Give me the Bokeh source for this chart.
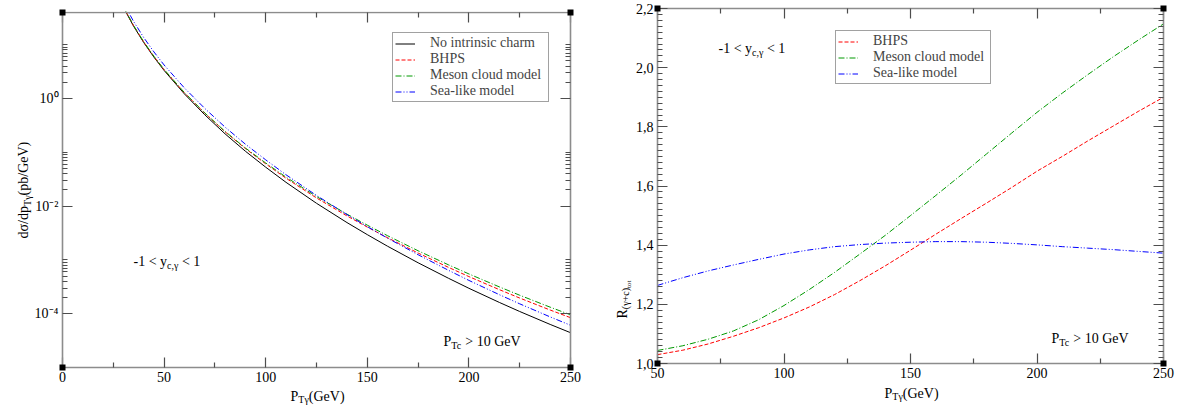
import math
from bokeh.plotting import figure
from bokeh.layouts import row
from bokeh.models import (Range1d, LinearAxis, LogAxis, FixedTicker, CustomJSTickFormatter,
                          Legend, LegendItem, Label, BoxAnnotation)
from bokeh.embed import file_html
from bokeh.resources import INLINE

FONT = "Liberation Serif"

# ---------------- data ----------------
pt_left = [30, 35, 40, 45, 50, 60, 70, 80, 90, 100, 110, 125, 140, 150, 160, 175, 190, 200, 215, 225, 240, 250]
xs_no_ic = [49.3, 22.1, 10.97, 5.88, 3.33, 1.22, 0.50, 0.221, 0.105, 0.053, 0.0277, 0.0113, 4.95e-3, 2.95e-3,
            1.795e-3, 8.85e-4, 4.55e-4, 2.97e-4, 1.62e-4, 1.10e-4, 6.32e-5, 4.44e-5]
xs_bhps = [50.3, 22.5, 11.21, 6.03, 3.43, 1.275, 0.533, 0.2413, 0.1177, 0.0612, 0.0330, 0.0142, 6.58e-3, 4.08e-3,
           2.58e-3, 1.342e-3, 7.26e-4, 4.90e-4, 2.80e-4, 1.955e-4, 1.170e-4, 8.44e-5]
xs_mcm = [50.8, 22.8, 11.33, 6.10, 3.48, 1.293, 0.541, 0.2453, 0.1205, 0.0634, 0.0346, 0.0151, 7.09e-3, 4.43e-3,
          2.815e-3, 1.480e-3, 8.09e-4, 5.49e-4, 3.15e-4, 2.207e-4, 1.323e-4, 9.54e-5]
xs_sea = [59.7, 27.1, 13.58, 7.36, 4.21, 1.574, 0.657, 0.2946, 0.142, 0.0726, 0.0383, 0.0158, 6.96e-3, 4.16e-3,
          2.535e-3, 1.249e-3, 6.40e-4, 4.16e-4, 2.257e-4, 1.527e-4, 8.72e-5, 6.10e-5]

pt_right = [50, 60, 70, 80, 90, 100, 110, 120, 130, 140, 150, 160, 170, 180, 190, 200, 210, 220, 230, 240, 250]
r_bhps = [1.030, 1.045, 1.066, 1.092, 1.121, 1.154, 1.191, 1.233, 1.280, 1.330, 1.383, 1.437, 1.490, 1.542,
          1.595, 1.650, 1.700, 1.752, 1.802, 1.852, 1.900]
r_mcm = [1.044, 1.060, 1.082, 1.110, 1.148, 1.196, 1.250, 1.308, 1.370, 1.433, 1.500, 1.568, 1.637, 1.708,
         1.779, 1.849, 1.914, 1.976, 2.036, 2.093, 2.148]
r_sea = [1.264, 1.290, 1.313, 1.333, 1.352, 1.370, 1.384, 1.395, 1.402, 1.407, 1.410, 1.412, 1.412, 1.410,
         1.406, 1.401, 1.395, 1.390, 1.385, 1.379, 1.373]

series_names = ["No intrinsic charm", "BHPS", "Meson cloud model", "Sea-like model"]

left_x_range = (0, 250)
left_y_range = (1e-5, 10 ** 1.6)
left_x_ticks = [0, 50, 100, 150, 200, 250]
left_x_minor = [25, 75, 125, 175, 225]
left_x_labels = ["0", "50", "100", "150", "200", "250"]
left_y_ticks = [1e-4, 1e-2, 1.0]
left_y_labels = ["10\u207b\u2074", "10\u207b\u00b2", "10\u2070"]

right_x_range = (50, 250)
right_y_range = (1.0, 2.2)
right_x_ticks = [50, 100, 150, 200, 250]
right_x_minor = [75, 125, 175, 225]
right_x_labels = ["50", "100", "150", "200", "250"]
right_y_ticks = [1.0, 1.2, 1.4, 1.6, 1.8, 2.0, 2.2]
right_y_labels = ["1,0", "1,2", "1,4", "1,6", "1,8", "2,0", "2,2"]

# ---------------- styles ----------------
COL = {"No intrinsic charm": "#000000", "BHPS": "#ff0000",
       "Meson cloud model": "#009900", "Sea-like model": "#0000ff"}
DASH = {"No intrinsic charm": "solid", "BHPS": "4 2",
        "Meson cloud model": "6 2 1 2", "Sea-like model": "6 2 1 2 1 2"}

W = {' ': 250, '-': 333, '0': 500, '1': 500, '2': 500, '3': 500, '4': 500, '5': 500, '6': 500, '7': 500,
     '8': 500, '9': 500, '<': 564, '>': 564, 'y': 500, 'c': 444, ',': 250, '\u03b3': 440, 'P': 556,
     'T': 611, '(': 333, ')': 333, 'G': 722, 'e': 444, 'V': 722, 'R': 667, '+': 564, 't': 278, 'o': 500,
     'd': 500, '\u03c3': 550, '/': 278, 'p': 500, 'b': 500}

CANVAS_TOP = 0        # Bokeh's page template has no body margin
HEIGHT = 407


def twidth(s, size):
    return sum(W.get(ch, 500) for ch in s) * size / 1000.0


def fmt(vals, labs):
    return CustomJSTickFormatter(args=dict(vals=vals, labs=labs), code="""
        for (let i = 0; i < vals.length; i++) {
            if (Math.abs(tick - vals[i]) <= 1e-9 * Math.max(1e-6, Math.abs(vals[i]))) return labs[i];
        }
        return "";
    """)


def blank():
    return CustomJSTickFormatter(code="return '';")


def style_axis(ax, ticker, formatter, labels=True):
    ax.ticker = ticker
    ax.formatter = formatter
    ax.axis_line_color = "#8c8c8c"
    ax.axis_line_width = 1.6
    ax.major_tick_line_color = "#4d4d4d"
    ax.minor_tick_line_color = "#4d4d4d"
    ax.major_tick_line_width = 1.2
    ax.minor_tick_line_width = 1.2
    ax.major_tick_in = 10
    ax.major_tick_out = 0
    ax.minor_tick_in = 5
    ax.minor_tick_out = 0
    ax.major_label_text_font = FONT
    ax.major_label_text_font_size = "14px"
    ax.major_label_text_color = "#000000"
    ax.major_label_standoff = 4
    if not labels:
        ax.major_label_text_font_size = "0px"
        ax.major_label_standoff = 0


class Panel:
    """One chart: the canvas covers the whole figure, the drawn box is set by the axes."""

    def __init__(self, page_left, width, box, xr, yr, ylog):
        self.cl, self.ct = page_left, CANVAS_TOP
        self.w, self.h = width, HEIGHT
        self.cb = self.ct + self.h
        L, R, T, B = box
        self.box = box
        x0, x1 = xr
        kx = (x1 - x0) / (R - L)
        xs, xe = x0 - (L - self.cl) * kx, x1 + (self.cl + width - R) * kx
        if ylog:
            l0, l1 = math.log10(yr[0]), math.log10(yr[1])
            ky = (l1 - l0) / (B - T)
            ys, ye = 10 ** (l0 - (self.cb - B) * ky), 10 ** (l1 + (T - self.ct) * ky)
        else:
            ky = (yr[1] - yr[0]) / (B - T)
            ys, ye = yr[0] - (self.cb - B) * ky, yr[1] + (T - self.ct) * ky
        self.p = figure(width=width, height=HEIGHT, x_range=Range1d(xs, xe), y_range=Range1d(ys, ye),
                        y_axis_type="log" if ylog else "linear", x_axis_location=None,
                        y_axis_location=None, output_backend="svg", toolbar_location=None,
                        min_border=0, min_border_left=0, min_border_right=0,
                        min_border_top=0, min_border_bottom=0)
        p = self.p
        p.xgrid.visible = False
        p.ygrid.visible = False
        p.outline_line_color = None
        p.background_fill_color = "white"
        p.border_fill_color = "white"
        self.xr, self.yr, self.ylog = xr, yr, ylog

    def axes(self, xt, xminor, xlab, yt, yminor, ylab):
        p = self.p
        xtk = FixedTicker(ticks=xt, minor_ticks=xminor)
        ytk = FixedTicker(ticks=yt, minor_ticks=yminor)
        YAx = LogAxis if self.ylog else LinearAxis
        a = LinearAxis(fixed_location=self.yr[0], bounds=self.xr)
        style_axis(a, xtk, fmt(xt, xlab)); p.add_layout(a, "below")
        a = LinearAxis(fixed_location=self.yr[1], bounds=self.xr)
        style_axis(a, xtk, blank(), False); p.add_layout(a, "above")
        a = YAx(fixed_location=self.xr[0], bounds=self.yr)
        style_axis(a, ytk, fmt(yt, ylab)); p.add_layout(a, "left")
        a = YAx(fixed_location=self.xr[1], bounds=self.yr)
        style_axis(a, ytk, blank(), False); p.add_layout(a, "right")

    def sx(self, X):
        return X - self.cl

    def sy(self, Y):
        return self.cb - Y

    def rich(self, X, Y, parts, rotated=False):
        pos = 0.0
        for text, size, shift in parts:
            stripped = text.lstrip(" ")
            pos += twidth(text[:len(text) - len(stripped)], size)
            if not rotated:
                px, py, ang = X + pos, Y + shift, 0.0
            else:
                px, py, ang = X + shift, Y - pos, math.pi / 2
            self.p.add_layout(Label(x=self.sx(px), y=self.sy(py), x_units="screen", y_units="screen",
                                    text=stripped, text_font=FONT, text_font_size=f"{size}px",
                                    angle=ang, text_align="left", text_baseline="alphabetic",
                                    text_color="#000000"))
            pos += twidth(stripped, size)

    def legend(self, items, box_left, box_bottom, lw):
        self.p.add_layout(Legend(items=items, location=(self.sx(box_left), self.sy(box_bottom)),
                                 label_text_font=FONT, label_text_font_size="14px",
                                 label_height=15, glyph_height=15, glyph_width=20, label_standoff=15,
                                 spacing=0, padding=2, margin=0, border_line_color="#444444",
                                 border_line_width=1, background_fill_color="white",
                                 background_fill_alpha=1.0, label_width=lw))

    def mask_top(self):
        L, R, T, B = self.box
        self.p.add_layout(BoxAnnotation(left=0, right=self.w, bottom=self.sy(T - 1), top=self.h,
                                        left_units="screen", right_units="screen",
                                        bottom_units="screen", top_units="screen",
                                        fill_color="white", fill_alpha=1.0, line_color=None))

    def corners(self):
        L, R, T, B = self.box
        for X in (L, R):
            for Y in (T, B):
                self.p.add_layout(BoxAnnotation(left=self.sx(X) - 3, right=self.sx(X) + 3,
                                                bottom=self.sy(Y) - 3, top=self.sy(Y) + 3,
                                                left_units="screen", right_units="screen",
                                                bottom_units="screen", top_units="screen",
                                                fill_color="black", fill_alpha=1.0, line_color=None))


# ---------------- left panel ----------------
left = Panel(0, 590, (62, 570, 12, 367), left_x_range, left_y_range, True)
ly_minor = [k * mm for mm in left_y_ticks for k in range(2, 11)]
left.axes(left_x_ticks, left_x_minor, left_x_labels, left_y_ticks, ly_minor, left_y_labels)

left_series = {"No intrinsic charm": xs_no_ic, "BHPS": xs_bhps,
               "Meson cloud model": xs_mcm, "Sea-like model": xs_sea}
items = []
for name in series_names:
    r = left.p.line(pt_left, left_series[name], line_color=COL[name], line_dash=DASH[name], line_width=1)
    items.append(LegendItem(label=name, renderers=[r]))
left.mask_top()
left.legend(items, 392, 102, 116)

left.rich(23, 238, [("d\u03c3/dp", 14, 0), ("T\u03b3", 10, 4), ("(pb/GeV)", 14, 0)], rotated=True)
left.rich(290, 396, [("P", 14, 0), ("T\u03b3", 10, 3), ("(GeV)", 14, 0)])
left.rich(133, 261, [("-1 < y", 14, 0), ("c,\u03b3", 10, 4), (" < 1", 14, 0)])
left.rich(443, 341, [("P", 14, 0), ("Tc", 10, 4), (" > 10 GeV", 14, 0)])
left.corners()

# ---------------- right panel ----------------
right = Panel(590, 592, (657, 1163, 8, 363), right_x_range, right_y_range, False)
ry_minor = [round(1.0 + 0.02 * i, 2) for i in range(1, 60) if i % 10 != 0]
right.axes(right_x_ticks, right_x_minor, right_x_labels, right_y_ticks, ry_minor, right_y_labels)

right_series = {"BHPS": r_bhps, "Meson cloud model": r_mcm, "Sea-like model": r_sea}
items2 = []
for name in series_names[1:]:
    r = right.p.line(pt_right, right_series[name], line_color=COL[name], line_dash=DASH[name], line_width=1)
    items2.append(LegendItem(label=name, renderers=[r]))
right.legend(items2, 835, 84, 115)

right.rich(622, 318, [("R", 14, 0), ("(\u03b3+c)", 10, 3), ("tot", 7, 6)], rotated=True)
right.rich(884, 393, [("P", 14, 0), ("T\u03b3", 10, 3), ("(GeV)", 14, 0)])
right.rich(718, 48, [("-1 < y", 14, 0), ("c,\u03b3", 10, 4), (" < 1", 14, 0)])
right.rich(1051, 338, [("P", 14, 0), ("Tc", 10, 4), (" > 10 GeV", 14, 0)])
right.corners()

layout = row(left.p, right.p)
open("out.html", "w").write(file_html(layout, INLINE))
